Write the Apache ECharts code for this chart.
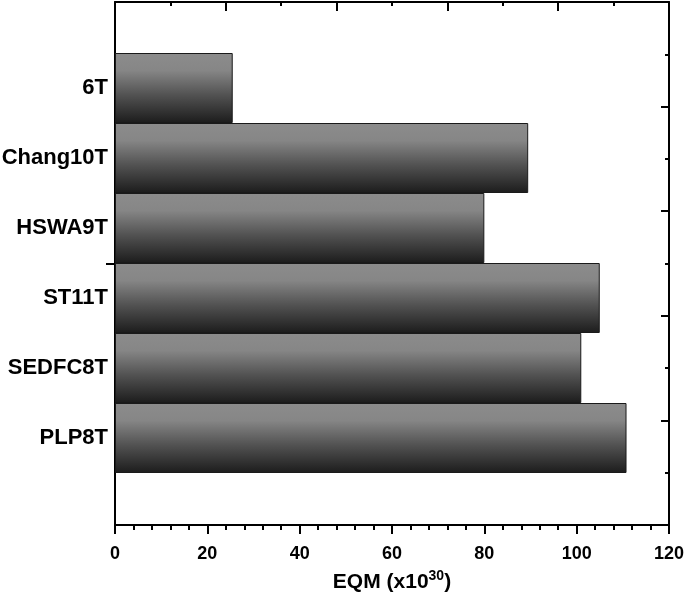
<!DOCTYPE html>
<html>
<head>
<meta charset="utf-8">
<script src="https://cdn.jsdelivr.net/npm/echarts@6/dist/echarts.min.js"></script>
<style>
html,body{margin:0;padding:0;background:#fff;}
#c{width:685px;height:613px;}
</style>
</head>
<body>
<div id="c"></div>
<script>
const categories = ['6T', 'Chang10T', 'HSWA9T', 'ST11T', 'SEDFC8T', 'PLP8T'];
const values = [25.5, 89.5, 80, 105, 101, 110.8];
const xTicks = [0, 20, 40, 60, 80, 100, 120];

const FONT = '"Liberation Sans", Arial, sans-serif';
const lineStyle = {color: '#000', width: 2};
const tickStyle = {color: '#000', width: 2};

const chart = echarts.init(document.getElementById('c'), null, {renderer: 'canvas'});
chart.setOption({
  animation: false,
  backgroundColor: '#fff',
  grid: [
    {left: 115, right: 16, top: 2, bottom: 88, containLabel: false, outerBoundsMode: 'none'},
    {left: 115, right: 16, top: 53, bottom: 140, containLabel: false, outerBoundsMode: 'none'}
  ],
  xAxis: [
    {
      gridIndex: 0, type: 'value', position: 'bottom',
      min: xTicks[0], max: xTicks[xTicks.length - 1], interval: 20,
      axisLine: {show: true, onZero: false, lineStyle: lineStyle},
      axisTick: {show: true, inside: false, length: 9, lineStyle: tickStyle},
      minorTick: {show: true, splitNumber: 5, length: 5, lineStyle: {color: '#000', width: 2}},
      splitLine: {show: false},
      axisLabel: {show: true, margin: 20, color: '#000', fontSize: 18, fontWeight: 'bold', fontFamily: FONT},
      name: '{a|EQM (x10}{b|30}{a|)}',
      nameLocation: 'middle',
      nameGap: 44,
      nameTextStyle: {
        rich: {
          a: {fontSize: 21, fontWeight: 'bold', color: '#000', fontFamily: FONT},
          b: {fontSize: 14, fontWeight: 'bold', color: '#000', fontFamily: FONT, padding: [0, 0, 12, 0]}
        }
      }
    },
    {
      gridIndex: 0, type: 'value', position: 'top',
      min: 0, max: 120, interval: 24,
      axisLine: {show: true, onZero: false, lineStyle: lineStyle},
      axisTick: {show: true, inside: true, length: 9, lineStyle: tickStyle},
      minorTick: {show: true, splitNumber: 2, length: 4, lineStyle: {color: '#000', width: 2}},
      splitLine: {show: false},
      axisLabel: {show: false}
    },
    {
      gridIndex: 1, type: 'value',
      min: xTicks[0], max: xTicks[xTicks.length - 1],
      show: false
    }
  ],
  yAxis: [
    {
      gridIndex: 0, type: 'value', position: 'left',
      min: 0, max: 2, interval: 1,
      axisLine: {show: true, onZero: false, lineStyle: lineStyle},
      axisTick: {show: true, inside: false, length: 9, lineStyle: tickStyle, customValues: [1]},
      splitLine: {show: false},
      axisLabel: {show: false}
    },
    {
      gridIndex: 0, type: 'value', position: 'right',
      min: 0, max: 5, interval: 1,
      axisLine: {show: true, onZero: false, lineStyle: lineStyle},
      axisTick: {show: true, inside: true, length: 8, lineStyle: tickStyle},
      minorTick: {show: true, splitNumber: 2, length: 4, lineStyle: {color: '#000', width: 2}},
      splitLine: {show: false},
      axisLabel: {show: false}
    },
    {
      gridIndex: 1, type: 'category', inverse: true,
      data: categories,
      axisLine: {show: false},
      axisTick: {show: false},
      splitLine: {show: false},
      axisLabel: {show: true, margin: 7, color: '#000', fontSize: 22, fontWeight: 'bold', fontFamily: FONT}
    }
  ],
  series: [{
    type: 'bar',
    xAxisIndex: 2,
    yAxisIndex: 2,
    data: values,
    barCategoryGap: 0,
    barWidth: '100%',
    itemStyle: {
      borderColor: '#1a1a1a',
      borderWidth: 1,
      color: new echarts.graphic.LinearGradient(0, 0, 0, 1, [
        {offset: 0, color: '#8c8c8c'},
        {offset: 0.25, color: '#868686'},
        {offset: 0.6, color: '#525252'},
        {offset: 1, color: '#1c1c1c'}
      ])
    }
  }]
});
</script>
</body>
</html>
